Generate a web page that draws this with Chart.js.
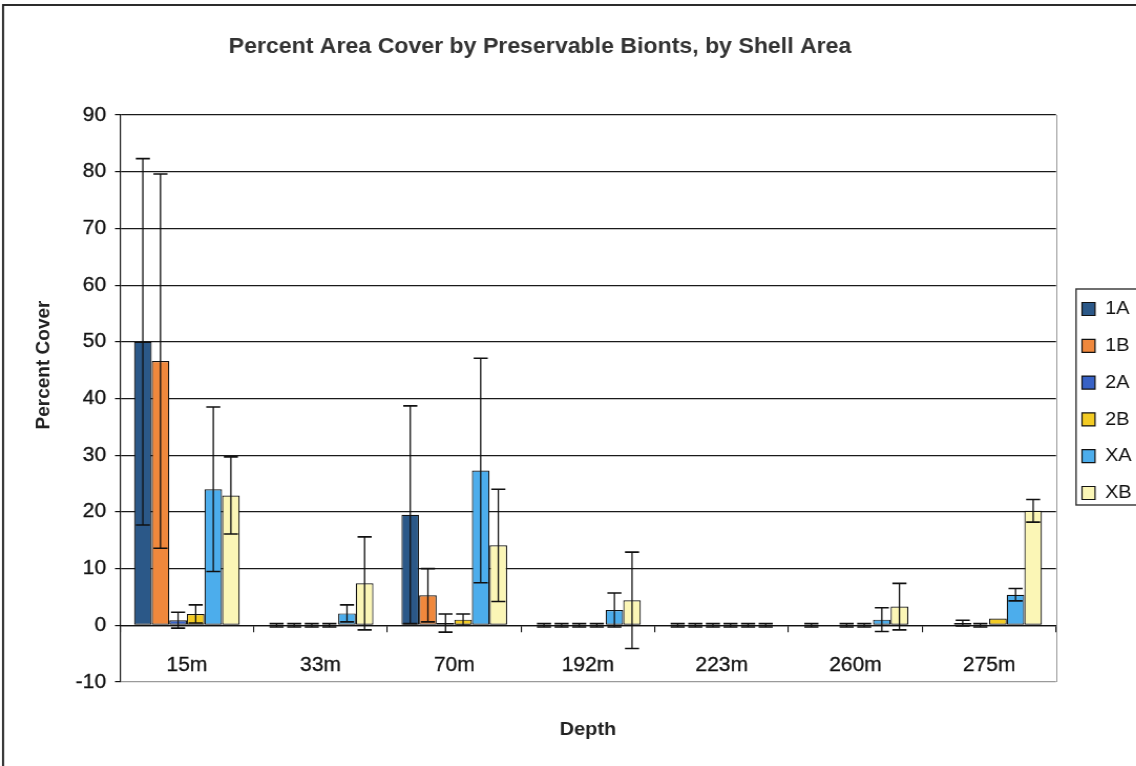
<!DOCTYPE html>
<html>
<head>
<meta charset="utf-8">
<title>Percent Area Cover by Preservable Bionts, by Shell Area</title>
<script src="https://cdn.jsdelivr.net/npm/chart.js@4.4.1/dist/chart.umd.min.js"></script>
<style>
  html, body { margin: 0; padding: 0; background: #fff; overflow: hidden; width: 1136px; height: 766px; }
  /* the chart is laid out on a slightly narrower canvas and widened horizontally */
  #frame { position: absolute; left: 0; top: 0; width: 1115px; height: 790px;
           transform: scaleX(1.05); transform-origin: 0 0; }
</style>
</head>
<body>
<div id="frame"><canvas id="chart"></canvas></div>
<script>
// Sampling depths (categories)
const depths = ['15m', '33m', '70m', '192m', '223m', '260m', '275m'];
// Shell areas (series)
const shellAreas = ['1A', '1B', '2A', '2B', 'XA', 'XB'];

// Mean percent cover per shell area at each depth
const cover1A = [50.0, 0, 19.5, 0, 0, 0, 0];
const cover1B = [46.6, 0, 5.3, 0, 0, 0, 0.4];
const cover2A = [0.9, 0, 0.4, 0, 0, 0, 0];
const cover2B = [2.0, 0, 1.0, 0, 0, 0, 1.2];
const coverXA = [24.0, 2.1, 27.3, 2.7, 0, 1.0, 5.4];
const coverXB = [22.9, 7.4, 14.1, 4.4, 0, 3.3, 20.2];

// Error (± one standard deviation) for each mean
const err1A = [32.3, 0.3, 19.2, 0.3, 0.3, 0.3, 0];
const err1B = [33.0, 0.3, 4.7, 0.3, 0.3, 0, 0.5];
const err2A = [1.4, 0.3, 1.6, 0.3, 0.3, 0.3, 0.3];
const err2B = [1.6, 0.3, 1.0, 0.3, 0.3, 0.3, 0];
const errXA = [14.5, 1.5, 19.8, 3.0, 0.3, 2.1, 1.1];
const errXB = [6.8, 8.2, 9.9, 8.5, 0.3, 4.1, 2.0];

// Value axis tick labels
const yTicks = [-10, 0, 10, 20, 30, 40, 50, 60, 70, 80, 90];

const seriesValues = [cover1A, cover1B, cover2A, cover2B, coverXA, coverXB];
const seriesErrors = [err1A, err1B, err2A, err2B, errXA, errXB];
const seriesColors = ['#2b5888', '#f0883c', '#3862c6', '#f3cb24', '#4cadec', '#fbf6b6'];

Chart.defaults.font.family = "'Liberation Sans', Arial, sans-serif";

// Vertical error bars with end caps, placed through the value scale
const errorBars = {
  id: 'errorBars',
  afterDatasetsDraw(chart) {
    const { ctx } = chart;
    const y = chart.scales.y;
    ctx.save();
    ctx.strokeStyle = '#111';
    chart.data.datasets.forEach((ds, i) => {
      const meta = chart.getDatasetMeta(i);
      if (meta.hidden) return;
      meta.data.forEach((bar, j) => {
        const e = ds.errors[j];
        if (!e) return;
        const v = ds.data[j];
        const yHi = y.getPixelForValue(v + e);
        const yLo = y.getPixelForValue(v - e);
        const half = bar.width * 0.4;
        ctx.lineWidth = 1.3;
        ctx.beginPath();
        ctx.moveTo(bar.x, yHi);
        ctx.lineTo(bar.x, yLo);
        ctx.stroke();
        ctx.lineWidth = 1.6;
        ctx.beginPath();
        ctx.moveTo(bar.x - half, yHi); ctx.lineTo(bar.x + half, yHi);
        ctx.moveTo(bar.x - half, yLo); ctx.lineTo(bar.x + half, yLo);
        ctx.stroke();
      });
    });
    ctx.restore();
  }
};

// Frames, title/legend placement and the rotated value-axis caption
const decorations = {
  id: 'decorations',
  afterLayout(chart) {
    const t = chart.titleBlock;
    if (t) { t.left = 0; t.right = 1028.6; }
    const lg = chart.legend;
    if (lg) { lg.left += 7; lg.right += 7; lg.top += 2.5; lg.bottom += 2.5; }
  },
  afterDraw(chart) {
    const { ctx, chartArea } = chart;
    ctx.save();
    // plot area right edge
    ctx.strokeStyle = '#9a9a9a';
    ctx.lineWidth = 1;
    ctx.beginPath();
    ctx.moveTo(Math.round(chartArea.right) + 0.5, chartArea.top);
    ctx.lineTo(Math.round(chartArea.right) + 0.5, chartArea.bottom);
    ctx.stroke();

    // legend frame
    const lg = chart.legend;
    if (lg && lg.legendHitBoxes && lg.legendHitBoxes.length) {
      const hb = lg.legendHitBoxes;
      const first = hb[0], last = hb[hb.length - 1];
      const fx = first.left - 5.7;
      const fy = first.top + first.height / 2 - 20;
      const fb = last.top + last.height / 2 + 12;
      ctx.strokeStyle = '#333';
      ctx.lineWidth = 1.4;
      ctx.strokeRect(fx, fy, 1108 - fx, fb - fy);
    }

    // value axis caption
    ctx.fillStyle = '#222';
    ctx.font = "bold 19px 'Liberation Sans', Arial, sans-serif";
    ctx.textAlign = 'center';
    ctx.textBaseline = 'middle';
    ctx.translate(41.9, 365);
    ctx.rotate(-Math.PI / 2);
    ctx.fillText('Percent Cover', 0, 0);
    ctx.setTransform(1, 0, 0, 1, 0, 0);

    // outer chart border
    ctx.strokeStyle = '#222';
    ctx.lineWidth = 1.9;
    ctx.strokeRect(2.9, 5, 1106, 800);
    ctx.restore();
  }
};

new Chart(document.getElementById('chart'), {
  type: 'bar',
  data: {
    labels: depths,
    datasets: shellAreas.map((name, i) => ({
      label: name,
      data: seriesValues[i],
      errors: seriesErrors[i],
      backgroundColor: seriesColors[i],
      borderColor: '#111',
      borderWidth: 1.2,
      borderSkipped: false,
      xAxisID: 'x',
      yAxisID: 'y'
    }))
  },
  options: {
    responsive: true,
    maintainAspectRatio: false,
    devicePixelRatio: 1,
    animation: false,
    layout: { padding: { left: 0, right: 37.3, top: 0, bottom: 0 } },
    datasets: { bar: { categoryPercentage: 0.79, barPercentage: 1.0 } },
    plugins: {
      title: {
        display: true,
        text: 'Percent Area Cover by Preservable Bionts, by Shell Area',
        color: '#333',
        font: { size: 22, weight: 'bold' },
        padding: { top: 33.8, bottom: 54.8 }
      },
      legend: {
        position: 'right',
        fullSize: false,
        maxWidth: 72,
        labels: {
          boxWidth: 12.4,
          boxHeight: 13,
          padding: 17.8,
          color: '#111',
          font: { size: 19 }
        }
      },
      tooltip: { enabled: false }
    },
    scales: {
      x: {
        type: 'category',
        position: { y: 0 },
        offset: true,
        grid: { offset: true, drawOnChartArea: false, tickLength: 6, color: '#111', lineWidth: 1.1 },
        border: { color: '#111', width: 1.2 },
        ticks: { font: { size: 20 }, color: '#111', textStrokeColor: '#111', textStrokeWidth: 0.3,
                 padding: 22.5, maxRotation: 0, autoSkip: false }
      },
      x2: {
        type: 'category',
        position: 'bottom',
        offset: true,
        grid: { display: false },
        border: { display: false },
        ticks: { display: false },
        title: {
          display: true,
          text: 'Depth',
          color: '#222',
          font: { size: 19, weight: 'bold' },
          padding: { top: 28.6, bottom: 48.6 }
        }
      },
      y: {
        min: yTicks[0],
        max: yTicks[yTicks.length - 1],
        ticks: { stepSize: yTicks[1] - yTicks[0], font: { size: 20 }, color: '#111',
                 textStrokeColor: '#111', textStrokeWidth: 0.3, padding: 8.5 },
        grid: {
          color: (c) => (c.tick && c.tick.value === yTicks[0] ? '#9a9a9a' : '#1a1a1a'),
          tickColor: '#111',
          tickLength: 4.8,
          lineWidth: 1.2
        },
        border: { color: '#111', width: 1.2 },
        afterFit(scale) { scale.width = 114.3; }
      }
    }
  },
  plugins: [errorBars, decorations]
});
</script>
</body>
</html>
